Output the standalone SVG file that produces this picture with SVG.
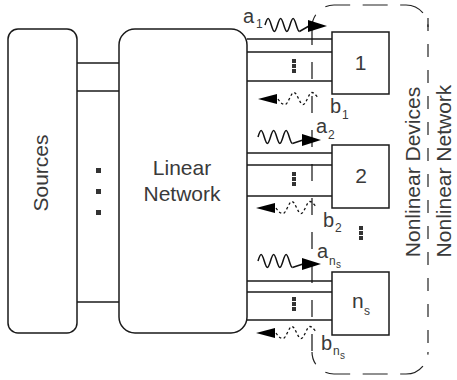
<svg xmlns="http://www.w3.org/2000/svg" width="457" height="380" viewBox="0 0 457 380">
<style>
.box{fill:#fff;stroke:#1a1a1a;stroke-width:1.5}
.w{stroke:#1a1a1a;stroke-width:1.4;fill:none}
.wave{stroke:#111;stroke-width:1.5;fill:none}
.dwave{stroke:#111;stroke-width:1.3;fill:none;stroke-dasharray:2.5 2.5}
.ref{stroke:#111;stroke-width:1.2;fill:none;stroke-dasharray:17 17}
.encl{stroke:#222;stroke-width:1.2;fill:none}
.dot{fill:#333}
.ah{fill:#000}
text{font-family:"Liberation Sans",Arial,Helvetica,sans-serif;fill:#3a3a3a}
.big{font-size:21px}
.lab{font-size:20px}
.sub{font-size:12px}
.sub2{font-size:10px}
</style>
<defs>
<path id="ahR" d="M0,-6 L19,0 L0,6 Z"/>
<path id="ahL" d="M0,0 L19,-5 L19,5 Z"/>
<path id="wv" d="M0,0 c1.02,-3.33 1.995,-6.5 3.125,-6.5 c2.276,0 3.974,13 6.25,13 c2.276,0 3.974,-13 6.25,-13 c2.276,0 3.974,13 6.25,13 c2.276,0 3.974,-13 6.25,-13 c2.276,0 3.974,13 6.25,13"/>
<path id="dw" d="M0,0 C2,3 4,5.5 7,5.5 c3.3,0 5.7,-12 9,-12 c3.3,0 5.7,12 9,12 c3.3,0 5.7,-12 9,-12 c2,0 4,3 6,5"/>
</defs>

<g id="sources">
<rect class="box" x="8" y="29" width="69" height="304" rx="10"/>
<text class="big" transform="translate(48,173) rotate(-90)" text-anchor="middle">Sources</text>
</g>

<g id="linear-network">
<rect class="box" x="119" y="29" width="128" height="304" rx="16"/>
<text class="big" x="182" y="175" text-anchor="middle">Linear</text>
<text class="big" x="182" y="201" text-anchor="middle">Network</text>
</g>

<g id="device-1">
<rect class="box" x="332" y="32" width="57" height="62"/>
<text class="big" x="360.5" y="70" text-anchor="middle">1</text>
</g>
<g id="device-2">
<rect class="box" x="332" y="145" width="57" height="63"/>
<text class="big" x="361" y="183" text-anchor="middle">2</text>
</g>
<g id="device-ns">
<rect class="box" x="332" y="272" width="57" height="63"/>
<text class="big" x="352" y="308">n</text>
<text class="sub" x="364" y="315">s</text>
</g>

<g id="nonlinear-network">
<path class="encl" stroke-dasharray="25 12.5" stroke-dashoffset="12" d="M312,27 A22,22 0 0 1 334,5 L406,5 A22,22 0 0 1 428,27"/>
<path class="encl" stroke-dasharray="13 13" d="M428,18 L428,352"/>
<path class="encl" stroke-dasharray="25 12.5" stroke-dashoffset="12" d="M312,352 A22,22 0 0 0 334,374 L406,374 A22,22 0 0 0 428,352"/>
<text class="big" transform="translate(420,172) rotate(-90)" text-anchor="middle">Nonlinear Devices</text>
<text class="big" transform="translate(451,171) rotate(-90)" text-anchor="middle">Nonlinear Network</text>
</g>

<g id="connectors">
<line class="w" x1="77" y1="63" x2="119" y2="63"/>
<line class="w" x1="77" y1="91" x2="119" y2="91"/>
<line class="w" x1="77" y1="302" x2="119" y2="302"/>
<rect class="dot" x="96" y="168" width="5" height="5"/>
<rect class="dot" x="96" y="189" width="5" height="5"/>
<rect class="dot" x="96" y="210" width="5" height="5"/>

<line class="w" x1="247" y1="39" x2="332" y2="39"/>
<line class="w" x1="247" y1="52" x2="332" y2="52"/>
<line class="w" x1="247" y1="81" x2="332" y2="81"/>
<line class="w" x1="247" y1="153" x2="332" y2="153"/>
<line class="w" x1="247" y1="165" x2="332" y2="165"/>
<line class="w" x1="247" y1="196" x2="332" y2="196"/>
<line class="w" x1="247" y1="281" x2="332" y2="281"/>
<line class="w" x1="247" y1="292" x2="332" y2="292"/>
<line class="w" x1="247" y1="320" x2="332" y2="320"/>

<rect class="dot" x="292" y="59" width="4" height="4"/>
<rect class="dot" x="292" y="64" width="4" height="4"/>
<rect class="dot" x="292" y="69" width="4" height="4"/>
<rect class="dot" x="292" y="172" width="4" height="4"/>
<rect class="dot" x="292" y="177" width="4" height="4"/>
<rect class="dot" x="292" y="182" width="4" height="4"/>
<rect class="dot" x="292" y="297" width="4" height="4"/>
<rect class="dot" x="292" y="302" width="4" height="4"/>
<rect class="dot" x="292" y="307" width="4" height="4"/>
<rect class="dot" x="359" y="226" width="4" height="4"/>
<rect class="dot" x="359" y="231" width="4" height="4"/>
<rect class="dot" x="359" y="236" width="4" height="4"/>

<line class="ref" x1="312" y1="28" x2="312" y2="352"/>

<use href="#wv" class="wave" x="265" y="25"/>
<line class="wave" x1="299.4" y1="31.5" x2="309" y2="26"/>
<use href="#ahR" class="ah" x="308" y="26"/>
<use href="#wv" class="wave" x="258" y="137"/>
<line class="wave" x1="292.4" y1="143.5" x2="303" y2="140"/>
<use href="#ahR" class="ah" x="302" y="140"/>
<use href="#wv" class="wave" x="258" y="261"/>
<line class="wave" x1="292.4" y1="267.5" x2="303" y2="264"/>
<use href="#ahR" class="ah" x="302" y="264"/>

<use href="#ahL" class="ah" x="258" y="99"/>
<use href="#dw" class="dwave" x="278" y="99"/>
<use href="#ahL" class="ah" x="256" y="208"/>
<use href="#dw" class="dwave" x="276" y="208"/>
<use href="#ahL" class="ah" x="256" y="333"/>
<use href="#dw" class="dwave" x="276" y="333"/>
</g>

<g id="labels">
<text class="lab" x="243" y="23">a</text><text class="sub" x="256" y="28">1</text>
<text class="lab" x="330" y="113">b</text><text class="sub" x="342" y="119">1</text>
<text class="lab" x="316" y="133">a</text><text class="sub" x="328" y="139">2</text>
<text class="lab" x="323" y="227">b</text><text class="sub" x="335" y="232">2</text>
<text class="lab" x="317" y="258">a</text><text class="sub" x="329" y="265">n</text><text class="sub2" x="336" y="268">s</text>
<text class="lab" x="321" y="350">b</text><text class="sub" x="333" y="355">n</text><text class="sub2" x="340" y="359">s</text>
</g>
</svg>
